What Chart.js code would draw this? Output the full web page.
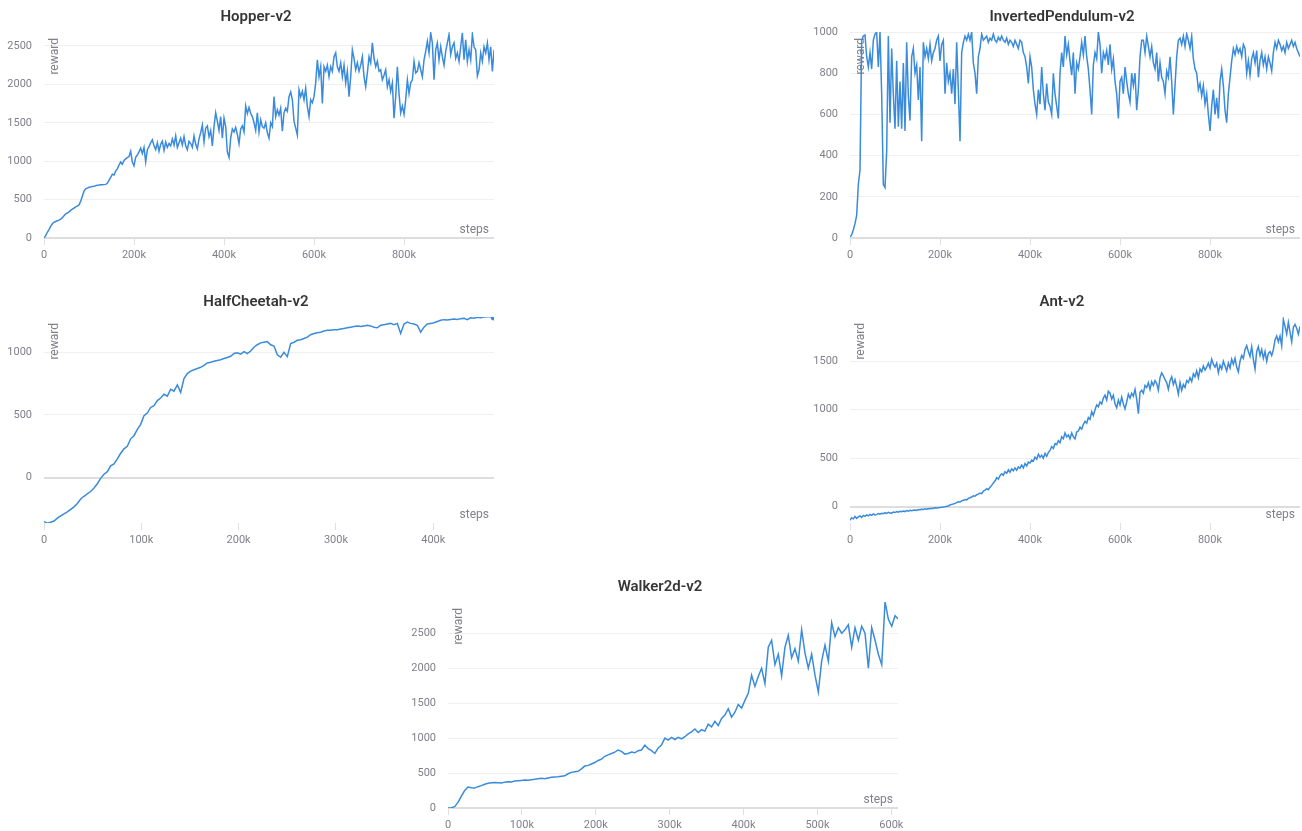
<!DOCTYPE html>
<html>
<head>
<meta charset="utf-8">
<script src="https://cdn.jsdelivr.net/npm/chart.js@4.4.0/dist/chart.umd.min.js"></script>
<style>
  html, body { margin: 0; padding: 0; background: #fff; overflow: hidden; width: 1302px; height: 831px; }
  canvas { position: absolute; }
</style>
</head>
<body>
<canvas id="hopper" width="512" height="270" style="left:0px;top:0px"></canvas>
<canvas id="pendulum" width="512" height="270" style="left:806px;top:0px"></canvas>
<canvas id="cheetah" width="512" height="270" style="left:0px;top:285px"></canvas>
<canvas id="ant" width="512" height="270" style="left:806px;top:285px"></canvas>
<canvas id="walker" width="512" height="270" style="left:404px;top:570px"></canvas>
<script>
// tick labels
const millionStepTicks = [0, 200000, 400000, 600000, 800000];
const cheetahStepTicks = [0, 100000, 200000, 300000, 400000];
const walkerStepTicks = [0, 100000, 200000, 300000, 400000, 500000, 600000];
const hopperRewardTicks = [0, 500, 1000, 1500, 2000, 2500];
const pendulumRewardTicks = [0, 200, 400, 600, 800, 1000];
const cheetahRewardTicks = [0, 500, 1000];
const antRewardTicks = [0, 500, 1000, 1500];
const walkerRewardTicks = [0, 500, 1000, 1500, 2000, 2500];

// reward logged every N env steps (one value per entry)
const hopperEvery = 3704;
const hopperReward = [
  0, 30, 75, 110, 150, 185, 205, 215, 225, 232,
  245, 265, 290, 315, 325, 340, 360, 375, 390, 405,
  415, 430, 480, 545, 610, 640, 650, 660, 665, 672,
  675, 680, 688, 690, 693, 692, 695, 698, 712, 750,
  790, 830, 820, 870, 900, 950, 990, 960, 1010, 1030,
  1045, 1060, 1130, 990, 940, 1050, 1080, 1120, 1170, 1100,
  1180, 990, 1150, 1190, 1240, 1280, 1200, 1150, 1240, 1130,
  1220, 1260, 1140, 1250, 1180, 1230, 1200, 1290, 1210, 1330,
  1180, 1240, 1300, 1210, 1320, 1200, 1150, 1260, 1230, 1180,
  1330, 1220, 1160, 1290, 1370, 1470, 1250, 1430, 1460, 1320,
  1400, 1200, 1450, 1630, 1520, 1400, 1580, 1300, 1560, 1450,
  1120, 1050, 1300, 1420, 1380, 1440, 1350, 1230, 1420, 1460,
  1380, 1720, 1620, 1700,
  1620, 1580, 1500, 1400, 1630, 1380, 1540, 1450, 1430, 1500,
  1370, 1300, 1500, 1450, 1840, 1580, 1670, 1600, 1690, 1390,
  1630, 1690, 1650, 1840, 1900, 1800, 1520, 1430, 1340, 1930,
  1840, 1910, 1800, 1950, 1710, 1580, 1800, 1760, 1840, 2020,
  2320, 2100, 2230, 1750, 2230, 2170, 2250, 2100, 2230, 2170,
  2360, 2410, 2230, 2170, 2280, 2100, 2250, 2020, 2170, 1840,
  2100, 2450, 2340, 2190, 2280, 2170, 2250, 2360, 2100, 1970,
  2150, 2360, 2280, 2540, 2340, 2230, 2300, 2170, 2190, 2060,
  2120, 2190, 1970, 2060, 1910, 2020, 1560, 1840, 2230, 1880,
  1630, 1720, 1610, 1800, 2060, 1880, 2020, 2060, 2300, 2150,
  2170, 2280, 2190, 2100, 2320, 2430, 2560, 2410, 2670, 2540,
  2060, 2450, 2540, 2320, 2490, 2360, 2250, 2430, 2540, 2650,
  2390, 2490, 2540, 2340, 2410, 2300, 2490, 2670, 2320, 2580,
  2300, 2450, 2320, 2650, 2490, 2450, 2110, 2190, 2410, 2300,
  2490, 2410, 2540, 2320, 2490, 2170, 2450, 2320
];

const pendulumEvery = 3704;
const pendulumReward = [
  5, 15, 40, 70, 110, 260, 330, 960, 980, 985,
  880, 830, 900, 820, 960, 990, 1000, 830, 1000, 700,
  260, 245, 420, 980, 560, 920, 700, 530, 860, 540,
  760, 530, 850, 520, 950, 690, 570, 880, 920, 800,
  840, 670, 830, 470, 950, 880, 920, 870, 940, 860,
  900, 920, 960, 980, 860, 940, 960, 700, 850, 760,
  800, 700, 820, 650, 950, 720, 470, 900, 950, 980,
  960, 990, 960, 1000, 850, 800, 700, 880, 920, 990,
  960, 970, 980, 950, 970, 960, 990, 960, 950, 975,
  960, 980, 960, 950, 970, 940, 960, 950, 930, 960,
  940, 920, 960, 950, 900, 880, 830, 750, 880, 830,
  720, 650, 600, 720, 650, 830, 700, 620, 750, 660,
  640, 600, 800, 700, 640, 580, 800, 900, 830, 980,
  890, 940, 860, 790, 900, 700, 850, 820, 880, 950,
  890, 980, 880, 820, 720, 600, 840, 900, 870, 1000,
  940, 800, 900, 870, 910, 840, 940, 820, 870, 760,
  700, 580, 760, 780, 700, 830, 760, 700, 660, 800,
  740, 800, 620, 720, 880, 960, 960, 900, 980, 930,
  880, 930, 850, 820, 900, 760, 850, 780, 760, 700,
  810, 780, 880, 760, 600, 740, 880, 960, 970, 940,
  980, 930, 990, 960, 920, 980, 870, 820, 800, 720,
  750, 690, 740, 650, 700, 600, 520, 640, 720, 600,
  680, 580, 760, 820, 740, 620, 560, 700, 780, 860,
  920, 890, 930, 900, 920, 880, 940, 920, 800, 860,
  790, 870, 900, 850, 910, 780, 860, 900, 840, 880,
  820, 880, 850, 810, 900, 950, 920, 960, 940, 910,
  930, 900, 950, 920, 940, 960, 930, 950, 920, 900,
  880
];

const cheetahEvery = 3425;
const cheetahReward = [
  -350, -362, -355, -345, -322, -305, -288, -272, -252, -232,
  -205, -170, -148, -128, -110, -82, -48, -5, 28, 48,
  95, 110, 150, 195, 230, 250, 310, 335, 385, 425,
  495, 515, 560, 575, 615, 635, 665, 650, 705, 690,
  740, 680, 790, 830, 850, 860, 870, 880, 895, 915,
  920, 928, 935, 940, 950, 958, 968, 990, 995, 985,
  1005, 990, 1010,
  1040, 1060, 1075, 1080, 1085, 1060, 1050, 980, 960, 1000,
  965, 1070, 1080, 1095, 1100, 1110, 1120, 1140, 1150, 1155,
  1160, 1170, 1175, 1175, 1180, 1180, 1185, 1190, 1195, 1200,
  1205, 1210, 1205, 1210, 1215, 1210, 1200, 1195, 1215, 1220,
  1225, 1230, 1220, 1230, 1150, 1225, 1240, 1230, 1225, 1215,
  1160, 1200, 1225, 1230, 1235, 1245, 1255, 1260, 1258, 1262,
  1265, 1262, 1268, 1270, 1260, 1275, 1272, 1278, 1275, 1280,
  1283, 1282, 1280
];

const antEvery = 3704;
const antReward = [
  -140, -115, -125, -100, -120, -105, -95, -110, -90, -100,
  -85, -95, -80, -90, -75, -85, -82, -70, -78, -68,
  -72, -62, -70, -58, -64, -66, -55, -60, -50, -56,
  -48, -52, -44, -50, -40, -46, -38, -42, -36, -34,
  -38, -30, -32, -26, -28, -22, -25, -18, -20, -16,
  -18, -12, -14, -10, -8, -6, -3, 0, 4, 8,
  18, 24, 28, 34, 42, 50, 48, 60, 66, 74,
  70, 86, 92, 100, 112, 108, 124, 130, 140, 135,
  160, 170, 185, 175, 200, 220, 245, 265, 300, 285,
  320, 340, 325, 360, 345, 380, 355, 390, 370, 400,
  375, 410, 395, 430, 400, 445, 420, 460, 450, 480,
  470, 510, 490, 540, 510, 530, 500, 550, 520, 560,
  580, 620, 600, 650, 640, 680, 660, 720, 700, 760,
  720, 740, 700, 760, 720, 700, 770, 780, 820, 800,
  850, 880, 860, 920, 900, 980, 940, 1000, 1050, 1030,
  1080, 1060, 1120, 1150, 1100, 1190, 1170, 1110, 1150, 1060,
  1020, 1100, 1050, 1130, 1060, 1010, 1080, 1160, 1120, 1170,
  1140, 1210, 1110, 960, 1180, 1200, 1170, 1250, 1230, 1280,
  1210, 1290, 1250, 1300, 1270, 1200, 1330, 1380, 1350, 1310,
  1280, 1210, 1300, 1340, 1260, 1310, 1240, 1160, 1280, 1200,
  1260, 1230, 1300, 1280, 1330, 1290, 1370, 1340, 1400, 1330,
  1420, 1390, 1450, 1410, 1440, 1480, 1430, 1520, 1470, 1440,
  1480, 1380, 1460, 1420, 1500, 1450, 1400, 1480, 1430, 1520,
  1470, 1530, 1440, 1390, 1500, 1560, 1530, 1620, 1660, 1600,
  1550, 1650, 1520, 1420, 1600, 1650, 1560, 1620, 1530, 1600,
  1500, 1580, 1600, 1560, 1620, 1720, 1760, 1700, 1760, 1660,
  1930, 1860, 1780, 1900, 1800, 1700, 1850, 1880, 1840, 1780,
  1860
];

const walkerEvery = 4515;
const walkerReward = [
  0, 5, 20, 80, 170, 250, 300, 290, 285, 305,
  320, 340, 355, 360, 365, 362, 358, 370, 375, 372,
  385, 390, 395, 400, 398, 405, 410, 420, 425, 420,
  430, 440, 445, 448, 455, 460, 490, 510, 520, 525,
  560, 600, 610, 630, 650, 680, 700, 740, 760, 780,
  800, 830, 810, 770, 780, 800, 790, 820, 830, 900,
  850,
  820, 780, 860, 900, 1000, 970, 1010, 980, 1010, 990,
  1020, 1060, 1090, 1130, 1080, 1120, 1100, 1200, 1160, 1240,
  1180, 1280, 1330, 1420, 1300, 1370, 1480, 1430, 1540, 1640,
  1900, 1740, 1880, 2000, 1780, 2300, 2400, 2050, 2200, 1890,
  2300, 2470, 2150, 2280, 2100, 2550, 2220, 2000, 2200, 1900,
  1660, 2100, 2330, 2100, 2650, 2450, 2580, 2500, 2550, 2620,
  2300, 2580, 2400, 2600, 2500, 2000, 2580, 2400, 2200, 2050,
  2950, 2700, 2600, 2750, 2700
];

const textGray = '#80808a';
const lineBlue = '#3a8bdb';

// title, "reward" and "steps" captions, placed relative to the plot area
const panelText = {
  id: 'panelText',
  beforeDatasetsDraw(chart, args, opts) {
    const { ctx, chartArea: a } = chart;
    ctx.save();
    ctx.fillStyle = '#363636';
    ctx.font = '600 15px Roboto';
    ctx.textAlign = 'center';
    ctx.textBaseline = 'middle';
    ctx.fillText(opts.title, (a.left + a.right) / 2 - 13, a.top - 15);
    ctx.fillStyle = textGray;
    ctx.font = '12px Roboto';
    ctx.textAlign = 'right';
    ctx.fillText('steps', a.right - 5, a.bottom - 8);
    ctx.translate(a.left + 10.5, a.top + 6);
    ctx.rotate(-Math.PI / 2);
    ctx.fillText('reward', 0, 0);
    ctx.restore();
  }
};

function makeChart(id, title, values, every, xMax, xTicks, yMin, yMax, yTicks, endDot) {
  const last = values.length - 1;
  new Chart(document.getElementById(id), {
    type: 'line',
    data: {
      datasets: [{
        data: values.map((v, i) => ({ x: i * every, y: v })),
        borderColor: lineBlue,
        backgroundColor: lineBlue,
        borderWidth: 1.5,
        pointRadius: c => (endDot && c.dataIndex === last ? 2.5 : 0),
        tension: 0
      }]
    },
    options: {
      responsive: false,
      animation: false,
      layout: { padding: { left: 0, right: 18, top: 32, bottom: 0 } },
      plugins: {
        legend: { display: false },
        tooltip: { enabled: false },
        title: { display: false },
        panelText: { title: title }
      },
      scales: {
        x: {
          type: 'linear',
          min: 0,
          max: xMax,
          border: { display: false },
          grid: { drawOnChartArea: false, color: '#e0e0e0', tickLength: 7 },
          afterBuildTicks(s) { s.ticks = xTicks.map(v => ({ value: v })); },
          ticks: {
            autoSkip: false,
            maxRotation: 0,
            padding: 4,
            color: textGray,
            font: { family: 'Roboto', size: 11 },
            callback: v => (v === 0 ? '0' : v / 1000 + 'k')
          },
          afterFit(s) { s.height = 32; }
        },
        y: {
          min: yMin,
          max: yMax,
          border: { display: false },
          grid: {
            drawTicks: false,
            color: c => (c.tick && c.tick.value === 0 ? '#dddddd' : '#f0f0f0'),
            lineWidth: c => (c.tick && c.tick.value === 0 ? 2 : 1)
          },
          afterBuildTicks(s) { s.ticks = yTicks.map(v => ({ value: v })); },
          ticks: {
            padding: 12,
            color: textGray,
            font: { family: 'Roboto', size: 11 },
            callback: v => String(v)
          },
          afterFit(s) { s.width = 44; }
        }
      }
    },
    plugins: [panelText]
  });
}

makeChart('hopper', 'Hopper-v2', hopperReward, hopperEvery, 1000000, millionStepTicks, 0, 2682, hopperRewardTicks, false);
makeChart('pendulum', 'InvertedPendulum-v2', pendulumReward, pendulumEvery, 1000000, millionStepTicks, 0, 1000, pendulumRewardTicks, false);
makeChart('cheetah', 'HalfCheetah-v2', cheetahReward, cheetahEvery, 462400, cheetahStepTicks, -361, 1281, cheetahRewardTicks, true);
makeChart('ant', 'Ant-v2', antReward, antEvery, 1000000, millionStepTicks, -168, 1956, antRewardTicks, false);
makeChart('walker', 'Walker2d-v2', walkerReward, walkerEvery, 609000, walkerStepTicks, 0, 2947, walkerRewardTicks, false);
</script>
</body>
</html>
